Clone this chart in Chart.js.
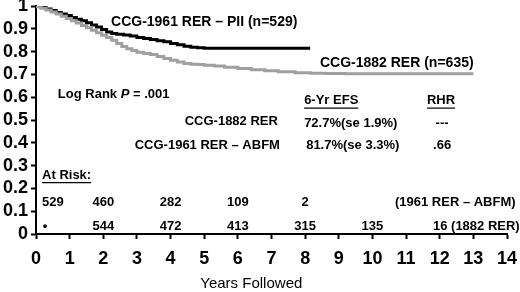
<!DOCTYPE html>
<html>
<head>
<meta charset="utf-8">
<script src="https://cdn.jsdelivr.net/npm/chart.js@4"></script>
<style>
  body { margin: 0; background: #fff; }
</style>
</head>
<body>
<canvas id="km" width="520" height="292"></canvas>
<script>
// Kaplan-Meier curves (years, EFS)
const years1961 = [0, 0.15, 0.3, 0.45, 0.6, 0.75, 0.9, 1.05, 1.2, 1.35, 1.5, 1.65, 1.8, 1.95, 2.1, 2.25, 2.4, 2.6, 2.8, 3.0, 3.2, 3.4, 3.6, 3.8, 4.0, 4.2, 4.4, 4.6, 4.8, 5.0, 5.4, 8.15];
const efs1961 = [1.0, 0.998, 0.993, 0.987, 0.98, 0.972, 0.965, 0.958, 0.95, 0.942, 0.935, 0.926, 0.917, 0.908, 0.897, 0.886, 0.879, 0.876, 0.873, 0.868, 0.862, 0.857, 0.853, 0.848, 0.843, 0.836, 0.83, 0.824, 0.819, 0.817, 0.815, 0.815];

const years1882 = [0, 0.15, 0.3, 0.45, 0.6, 0.75, 0.9, 1.05, 1.2, 1.35, 1.5, 1.65, 1.8, 1.95, 2.1, 2.25, 2.4, 2.55, 2.7, 2.85, 3.0, 3.2, 3.4, 3.6, 3.8, 4.0, 4.2, 4.4, 4.6, 4.8, 5.0, 5.3, 5.6, 6.0, 6.4, 6.8, 7.2, 7.7, 8.15, 8.6, 9.2, 9.6, 13.0];
const efs1882 = [1.0, 0.997, 0.99, 0.982, 0.974, 0.965, 0.955, 0.945, 0.935, 0.925, 0.915, 0.905, 0.894, 0.883, 0.872, 0.862, 0.85, 0.835, 0.822, 0.813, 0.805, 0.797, 0.792, 0.787, 0.778, 0.77, 0.762, 0.754, 0.748, 0.745, 0.743, 0.74, 0.737, 0.731, 0.726, 0.72, 0.716, 0.712, 0.707, 0.705, 0.704, 0.703, 0.703];

const xTicks = [0, 1, 2, 3, 4, 5, 6, 7, 8, 9, 10, 11, 12, 13, 14];
const yTicks = [0, 0.1, 0.2, 0.3, 0.4, 0.5, 0.6, 0.7, 0.8, 0.9, 1];

// numbers at risk
const riskYears1961 = [0.5, 2, 4, 6, 8];
const risk1961 = [529, 460, 282, 109, 2];
const riskYears1882 = [2, 4, 6, 8, 10];
const risk1882 = [544, 472, 413, 315, 135];

const toPoints = (xs, ys) => xs.map((x, i) => ({ x: x, y: ys[i] }));

const fmt = (v) => (v === 0 || v === 1) ? String(v) : v.toFixed(1);

const textPlugin = {
  id: "kmText",
  afterDraw(chart) {
    const ctx = chart.ctx;
    const xs = chart.scales.x;
    const ys = chart.scales.y;
    const px = (v) => xs.getPixelForValue(v);
    const py = (v) => ys.getPixelForValue(v);
    ctx.save();
    ctx.fillStyle = "#000";
    ctx.strokeStyle = "#000";
    ctx.textBaseline = "middle";

    const put = (txt, x, y, size, align, underline) => {
      ctx.font = "bold " + size + "px 'Liberation Sans', Arial, sans-serif";
      ctx.textAlign = align || "left";
      ctx.fillText(txt, x, y);
      if (underline) {
        const w = ctx.measureText(txt).width;
        let x0 = x;
        if (align === "center") x0 = x - w / 2;
        if (align === "right") x0 = x - w;
        ctx.lineWidth = 1.2;
        ctx.beginPath();
        ctx.moveTo(x0, y + size / 2 + 1);
        ctx.lineTo(x0 + w, y + size / 2 + 1);
        ctx.stroke();
      }
    };

    put("CCG-1961 RER \u2013 PII (n=529)", px(2.23), py(0.93), 14);
    put("CCG-1882 RER (n=635)", px(8.44), py(0.75), 14);

    // Log Rank P = .001 with italic P
    let lx = px(0.65);
    const ly = py(0.61);
    ctx.textAlign = "left";
    ctx.font = "bold 13px 'Liberation Sans', Arial, sans-serif";
    ctx.fillText("Log Rank ", lx, ly);
    lx += ctx.measureText("Log Rank ").width;
    ctx.font = "italic bold 13px 'Liberation Sans', Arial, sans-serif";
    ctx.fillText("P", lx, ly);
    lx += ctx.measureText("P").width;
    ctx.font = "bold 13px 'Liberation Sans', Arial, sans-serif";
    ctx.fillText(" = .001", lx, ly);

    put("6-Yr EFS", px(7.97), py(0.585), 13, "left", true);
    put("RHR", px(11.62), py(0.585), 13, "left", true);
    put("CCG-1882 RER", px(7.19), py(0.492), 13, "right");
    put("72.7%(se 1.9%)", px(7.97), py(0.483), 13);
    put("---", px(12.07), py(0.487), 13, "center");
    put("CCG-1961 RER \u2013 ABFM", px(7.25), py(0.387), 13, "right");
    put("81.7%(se 3.3%)", px(8.03), py(0.387), 13);
    put(".66", px(12.07), py(0.387), 13, "center");

    put("At Risk:", px(0.18), py(0.258), 13, "left", true);
    riskYears1961.forEach((t, i) => put(String(risk1961[i]), px(t), py(0.14), 13, "center"));
    put("(1961 RER \u2013 ABFM)", px(10.67), py(0.14), 13);
    put("\u2022", px(0.27), py(0.035), 13, "center");
    riskYears1882.forEach((t, i) => put(String(risk1882[i]), px(t), py(0.035), 13, "center"));
    put("16 (1882 RER)", px(11.8), py(0.035), 13);

    ctx.font = "15px 'Liberation Sans', Arial, sans-serif";
    ctx.textAlign = "center";
    ctx.fillText("Years Followed", px(6.4), 284);
    ctx.restore();
  }
};

new Chart(document.getElementById("km").getContext("2d"), {
  type: "line",
  data: {
    datasets: [
      {
        label: "CCG-1882 RER",
        data: toPoints(years1882, efs1882),
        borderColor: "#a0a0a0",
        borderWidth: 3,
        stepped: "after",
        pointRadius: 0,
        fill: false,
      },
      {
        label: "CCG-1961 RER",
        data: toPoints(years1961, efs1961),
        borderColor: "#000000",
        borderWidth: 3,
        stepped: "after",
        pointRadius: 0,
        fill: false,
      },
    ],
  },
  options: {
    responsive: false,
    animation: false,
    layout: { padding: { left: 0, right: 13, top: 6, bottom: 0 } },
    plugins: { legend: { display: false }, tooltip: { enabled: false } },
    scales: {
      x: {
        type: "linear",
        min: 0,
        max: 14,
        afterBuildTicks: (s) => { s.ticks = xTicks.map((v) => ({ value: v })); },
        afterFit: (s) => { s.height = 58; s.paddingLeft = 0; s.paddingRight = 0; },
        border: { display: true, color: "#000", width: 2 },
        grid: { display: true, drawOnChartArea: false, color: "#000", tickLength: 5, tickWidth: 2 },
        ticks: {
          color: "#000",
          padding: 9,
          maxRotation: 0,
          autoSkip: false,
          font: { family: "'Liberation Sans', Arial, sans-serif", size: 18, weight: "bold" },
        },
      },
      y: {
        min: 0,
        max: 1,
        afterBuildTicks: (s) => { s.ticks = yTicks.map((v) => ({ value: v })); },
        afterFit: (s) => { s.width = 36; s.paddingTop = 0; s.paddingBottom = 0; },
        border: { display: true, color: "#000", width: 2 },
        grid: { display: true, drawOnChartArea: false, color: "#000", tickLength: 5, tickWidth: 2 },
        ticks: {
          color: "#000",
          padding: 3,
          autoSkip: false,
          callback: (v) => fmt(v),
          font: { family: "'Liberation Sans', Arial, sans-serif", size: 18, weight: "bold" },
        },
      },
    },
  },
  plugins: [textPlugin],
});
</script>
</body>
</html>
